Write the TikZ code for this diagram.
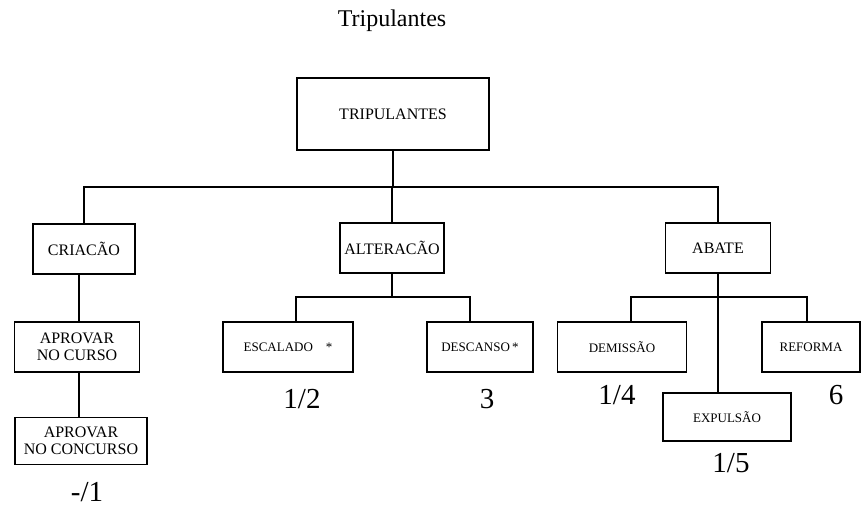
\documentclass[tikz,border=0pt]{standalone}
\usepackage{fontspec}
\setmainfont{Liberation Serif}
\begin{document}
\begin{tikzpicture}[x=1pt,y=-1pt,
  line width=1.4pt,
  box/.style={draw, line width=1.4pt, inner sep=0pt, align=center},
  bigbox/.style={box, font=\fontsize{16}{17}\selectfont},
  smallbox/.style={box, font=\fontsize{13}{14}\selectfont},
  score/.style={font=\fontsize{29}{30}\selectfont, inner sep=0pt},
  wire/.style={line width=1.4pt}]
\useasboundingbox (0,0) rectangle (861,514);

% heading
\node[font=\fontsize{24}{26}\selectfont, inner sep=0pt] (title) at (392,21) {Tripulantes};

% root
\node[bigbox, minimum width=192, minimum height=72] (trip) at (393,114) {TRIPULANTES};

% first level
\node[bigbox, minimum width=102, minimum height=50] (cria)  at (84,249)  {CRIACÃO};
\node[bigbox, minimum width=104, minimum height=50] (alt)   at (392,248) {ALTERACÃO};
\node[bigbox, minimum width=105, minimum height=50] (abate) at (718,248) {ABATE};

% creation chain
\node[bigbox, minimum width=125, minimum height=50] (apC) at (77,347)  {APROVAR\\NO CURSO};
\node[bigbox, minimum width=132, minimum height=47] (apK) at (81,441)  {APROVAR\\NO CONCURSO};

% alteration children
\node[smallbox, minimum width=130, minimum height=50] (esc)  at (288,347) {ESCALADO\quad*};
\node[smallbox, minimum width=106, minimum height=50] (desc) at (480,347) {DESCANSO\,*};

% termination children
\node[smallbox, minimum width=129, minimum height=50] (dem) at (622,347) {DEMISSÃO};
\node[smallbox, minimum width=98,  minimum height=50] (ref) at (811,347) {REFORMA};
\node[smallbox, minimum width=128, minimum height=48] (exp) at (727,417) {EXPULSÃO};

% figures under the leaves
\node[score] (nEsc)  at (302,399) {1/2};
\node[score] (nDesc) at (487,399) {3};
\node[score] (nDem)  at (617,395) {1/4};
\node[score] (nRef)  at (836,395) {6};
\node[score] (nExp)  at (731,463) {1/5};
\node[score] (nApK)  at (87,492)  {-/1};

% main bus
\coordinate (bus) at (393,187);
\draw[wire] (trip.south) -- (bus);
\draw[wire] (cria.north) |- (bus) -| (abate.north);
\draw[wire] (alt.north) -- (alt.north |- bus);

% creation chain links
\draw[wire] (79,0 |- cria.south) -- (79,0 |- apC.north);
\draw[wire] (79,0 |- apC.south) -- (79,0 |- apK.north);

% alteration bus
\coordinate (busA) at (392,297);
\draw[wire] (alt.south) -- (busA);
\draw[wire] (296,0 |- esc.north) |- (busA) -| (470,0 |- desc.north);

% termination bus
\coordinate (busB) at (718,297);
\draw[wire] (631,0 |- dem.north) |- (busB) -| (807,0 |- ref.north);
\draw[wire] (abate.south) -- (abate.south |- exp.north);
\end{tikzpicture}
\end{document}
